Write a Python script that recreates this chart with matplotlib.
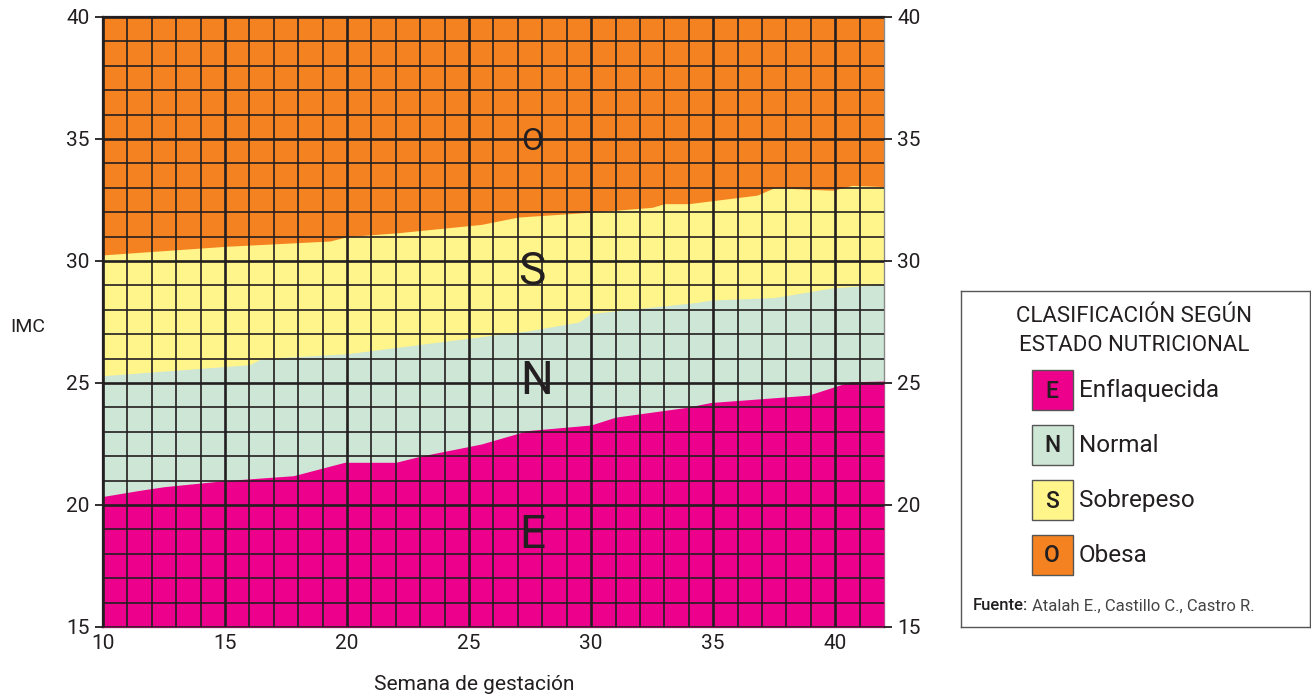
import matplotlib.pyplot as plt
from matplotlib.patches import Rectangle

plt.rcParams['font.family'] = ['Roboto', 'DejaVu Sans']

# límites entre zonas (semana, IMC)
semana_os = [10, 15, 19.3, 20, 22, 23.5, 25.5, 27, 30, 32.5, 33, 34, 36.8, 37.5, 39.9, 40.7, 42]
imc_os = [30.25, 30.6, 30.82, 31.0, 31.15, 31.3, 31.5, 31.8, 32.0, 32.2, 32.35, 32.35, 32.7, 33.0, 32.9, 33.1, 33.05]

semana_ns = [10, 16, 16.5, 20, 25.5, 27.5, 29.5, 30, 34.3, 34.9, 37.5, 39.9, 42]
imc_ns = [25.3, 25.75, 26.0, 26.2, 26.9, 27.15, 27.5, 27.85, 28.3, 28.4, 28.5, 28.9, 29.05]

semana_en = [10, 11.5, 12.5, 15, 17.8, 19.9, 22, 23, 25.5, 27.4, 30, 31, 33.9, 34.9, 38.9, 40.6, 42]
imc_en = [20.35, 20.6, 20.75, 21.0, 21.2, 21.75, 21.75, 22.0, 22.5, 23.05, 23.28, 23.6, 24.0, 24.2, 24.5, 25.05, 25.08]

letras = ['O', 'S', 'N', 'E']
letras_x = [27.58, 27.58, 27.75, 27.6]
letras_y = [35.0, 29.75, 25.25, 18.95]

categorias = ['Enflaquecida', 'Normal', 'Sobrepeso', 'Obesa']
codigos = ['E', 'N', 'S', 'O']

col_e = '#EC008C'
col_n = '#CDE6D5'
col_s = '#FFF58A'
col_o = '#F58220'
colores = [col_e, col_n, col_s, col_o]
linea = '#231F20'

fig = plt.figure(figsize=(13.11, 6.98), dpi=100)
ax = fig.add_axes([103/1311, 1-627/698, 781/1311, 610/698])

ax.set_xlim(10, 42)
ax.set_ylim(15, 40)
ax.set_facecolor(col_o)
ax.fill_between(semana_os, 15, imc_os, color=col_s, lw=0, zorder=1)
ax.fill_between(semana_ns, 15, imc_ns, color=col_n, lw=0, zorder=2)
ax.fill_between(semana_en, 15, imc_en, color=col_e, lw=0, zorder=3)

# cuadrícula (la línea 5 en 5 algo más gruesa)
for x in range(10, 42):
    ax.axvline(x, color=linea, lw=1.9 if x % 5 == 0 else 1.2, zorder=4)
for y in range(15, 41):
    ax.axhline(y, color=linea, lw=1.9 if y % 5 == 0 else 1.2, zorder=4)

for l, x, y in zip(letras, letras_x, letras_y):
    ax.text(x, y, l, fontsize=23 if l == 'O' else 33, color=linea,
            ha='center', va='center_baseline', zorder=5)

ax.set_xticks(range(10, 41, 5))
ax.set_yticks(range(15, 41, 5))
ax.tick_params(axis='both', labelsize=15, colors=linea, width=1.3, length=6)
ax.tick_params(axis='x', length=0, pad=5)
for s in ax.spines.values():
    s.set_color(linea)
    s.set_linewidth(1.6)
ax.spines['right'].set_color('#8a8a8a')
ax.spines['right'].set_linewidth(1.0)

ax2 = ax.twinx()
ax2.set_ylim(15, 40)
ax2.set_yticks(range(15, 41, 5))
ax2.tick_params(axis='y', labelsize=15, colors=linea, width=1.3, length=6)
for s in ax2.spines.values():
    s.set_visible(False)

fig.text(28/1311, 1-327/698, 'IMC', fontsize=14, color=linea, ha='center', va='center')
fig.text(474/1311, 1-685/698, 'Semana de gestación', fontsize=15, color=linea,
         ha='center', va='center')

# leyenda dibujada a mano
lg = fig.add_axes([961/1311, 1-627/698, 349/1311, 336/698])
lg.set_xlim(0, 349)
lg.set_ylim(336, 0)
lg.set_xticks([])
lg.set_yticks([])
for s in lg.spines.values():
    s.set_color('#555555')
    s.set_linewidth(1.0)

lg.text(173, 26, 'CLASIFICACIÓN SEGÚN', fontsize=16, ha='center', va='center', color=linea)
lg.text(173, 55, 'ESTADO NUTRICIONAL', fontsize=16, ha='center', va='center', color=linea)

for i, (cod, cat, col) in enumerate(zip(codigos, categorias, colores)):
    yc = 99 + i * 55
    lg.add_patch(Rectangle((71, yc - 20), 41, 40, facecolor=col, edgecolor='#555555', lw=1.0))
    lg.text(91, yc + 1, cod, fontsize=16.5, ha='center', va='center', color=linea,
            fontweight='medium')
    lg.text(118, yc, cat, fontsize=17.5, ha='left', va='center', color=linea)

fuente = lg.text(12, 315, 'Fuente:', fontsize=12, ha='left', va='center', color=linea,
                 fontweight='medium')
lg.annotate(' Atalah E., Castillo C., Castro R.', xy=(1, 0.5), xycoords=fuente,
            fontsize=12, ha='left', va='center', color='#444444')

fig.savefig('out.png', dpi=100)
